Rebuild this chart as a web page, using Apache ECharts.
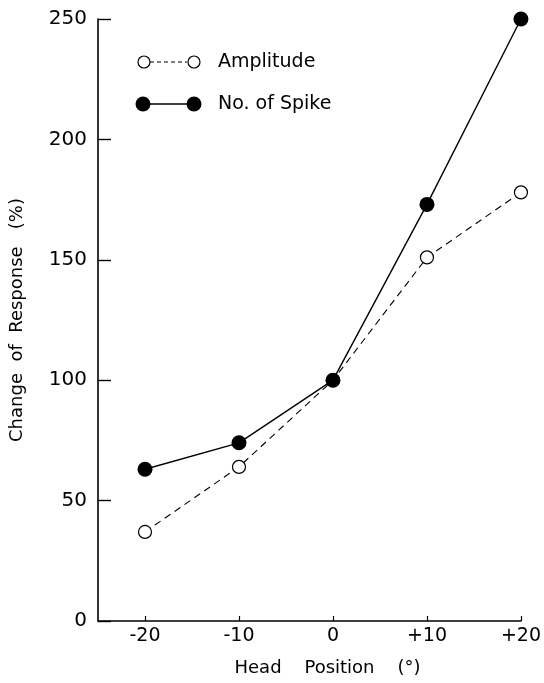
<!DOCTYPE html>
<html>
<head>
<meta charset="utf-8">
<script src="https://cdn.jsdelivr.net/npm/echarts@6/dist/echarts.min.js"></script>
<style>
html,body{margin:0;padding:0;background:#fff;}
#c{width:544px;height:683px;}
</style>
</head>
<body>
<div id="c"></div>
<script>
var headPositions = [-20, -10, 0, 10, 20];
var xTickValues = [-20, -10, 0, 10, 20];
var xTickLabels = ['-20', '-10', '0', '+10', '+20'];
var amplitude = [37, 64, 100, 151, 178];
var noOfSpike = [63, 74, 100, 173, 250];
var seriesNames = ['Amplitude', 'No. of Spike'];

function pairs(xs, ys) { return xs.map(function (x, i) { return [x, ys[i]]; }); }

var FONT = 'DejaVu Sans';
var chart = echarts.init(document.getElementById('c'), null, {renderer: 'canvas'});
chart.setOption({
  backgroundColor: '#ffffff',
  animation: false,
  grid: {left: 97, right: 12, top: 19, bottom: 62, containLabel: false},
  xAxis: {
    type: 'value', min: -25, max: 20,
    splitLine: {show: false},
    axisLine: {show: true, onZero: false, lineStyle: {color: '#000', width: 1.6}},
    axisTick: {show: true, inside: true, length: 5, customValues: xTickValues, lineStyle: {color: '#000', width: 1.2}},
    axisLabel: {
      customValues: xTickValues, margin: 6, color: '#000', fontFamily: FONT, fontSize: 19,
      formatter: function (v) { var i = xTickValues.indexOf(v); return i >= 0 ? xTickLabels[i] : ''; }
    },
    name: 'Head    Position    (°)', nameLocation: 'middle', nameGap: 38,
    nameTextStyle: {color: '#000', fontFamily: FONT, fontSize: 18, padding: [0, 0, 0, 36]}
  },
  yAxis: {
    type: 'value', min: 0, max: 250, interval: 50,
    splitLine: {show: false},
    axisLine: {show: true, onZero: false, lineStyle: {color: '#000', width: 1.6}},
    axisTick: {show: true, inside: true, length: 13, lineStyle: {color: '#000', width: 1.4}},
    axisLabel: {margin: 11, color: '#000', fontFamily: FONT, fontSize: 20},
    name: 'Change  of  Response   (%)', nameLocation: 'middle', nameGap: 72,
    nameTextStyle: {color: '#000', fontFamily: FONT, fontSize: 18}
  },
  series: [
    {
      name: seriesNames[0], type: 'line', data: pairs(headPositions, amplitude),
      symbol: 'circle', symbolSize: 13, showSymbol: true, z: 2,
      lineStyle: {color: '#000', width: 1.1, type: [7, 5]},
      itemStyle: {color: '#fff', borderColor: '#000', borderWidth: 1.2}
    },
    {
      name: seriesNames[1], type: 'line', data: pairs(headPositions, noOfSpike),
      symbol: 'circle', symbolSize: 15, showSymbol: true, z: 3,
      lineStyle: {color: '#000', width: 1.4},
      itemStyle: {color: '#000', borderColor: '#000', borderWidth: 0}
    }
  ],
  graphic: [
    {type: 'line', shape: {x1: 150, y1: 62, x2: 187, y2: 62}, style: {stroke: '#000', lineWidth: 1.1, lineDash: [4, 3]}},
    {type: 'circle', shape: {cx: 144, cy: 62, r: 6}, style: {fill: '#fff', stroke: '#000', lineWidth: 1.2}},
    {type: 'circle', shape: {cx: 194, cy: 62, r: 6}, style: {fill: '#fff', stroke: '#000', lineWidth: 1.2}},
    {type: 'text', x: 218, y: 62, style: {text: seriesNames[0], fill: '#000', font: '19px "DejaVu Sans"', textVerticalAlign: 'middle'}},
    {type: 'line', shape: {x1: 144, y1: 104, x2: 194, y2: 104}, style: {stroke: '#000', lineWidth: 1.4}},
    {type: 'circle', shape: {cx: 143, cy: 104, r: 7.5}, style: {fill: '#000'}},
    {type: 'circle', shape: {cx: 194, cy: 104, r: 7.5}, style: {fill: '#000'}},
    {type: 'text', x: 218, y: 104, style: {text: seriesNames[1], fill: '#000', font: '19px "DejaVu Sans"', textVerticalAlign: 'middle'}}
  ]
});
</script>
</body>
</html>
